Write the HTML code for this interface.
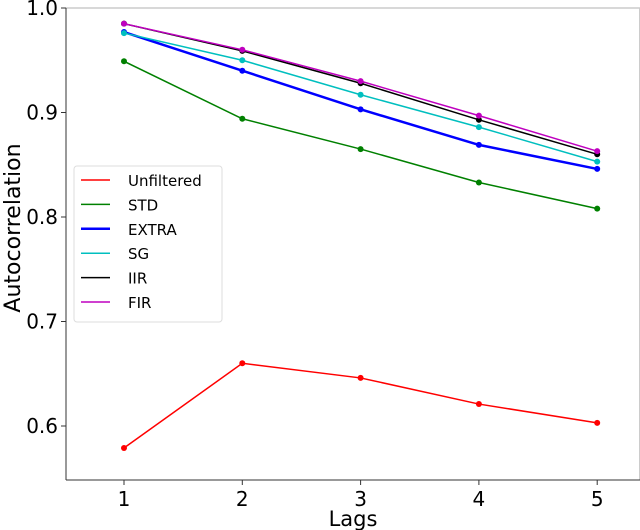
<!DOCTYPE html>
<html><head><meta charset="utf-8"><style>
body{margin:0;background:#fff;}
svg{display:block;font-family:"DejaVu Sans","Liberation Sans",sans-serif;}
</style></head><body>
<svg id="chart" width="640" height="530"></svg>
<script>
const lags=[1,2,3,4,5];
const unfiltered=[0.579,0.660,0.646,0.621,0.603];
const stdVals=[0.949,0.894,0.865,0.833,0.808];
const extraVals=[0.977,0.940,0.903,0.869,0.846];
const sgVals=[0.976,0.950,0.917,0.886,0.853];
const iirVals=[0.985,0.959,0.928,0.893,0.860];
const firVals=[0.985,0.960,0.930,0.897,0.863];
const yTicks=[0.6,0.7,0.8,0.9,1.0];
const xTicks=[1,2,3,4,5];
const seriesNames=["Unfiltered","STD","EXTRA","SG","IIR","FIR"];

const NS="http://www.w3.org/2000/svg";
const svg=document.getElementById('chart');
const L=66,R=640,T=8,B=480;
const x=v=>124+(v-1)*118.3;
const y=v=>8+(1.0-v)*1045;
function mk(tag,attrs,parent){const e=document.createElementNS(NS,tag);for(const k in attrs)e.setAttribute(k,attrs[k]);(parent||svg).appendChild(e);return e;}

const frame=mk('g',{});


mk('line',{x1:L,y1:T,x2:R,y2:T,stroke:'#ccc','stroke-width':1.5},frame);
mk('line',{x1:R-0.5,y1:T,x2:R-0.5,y2:B,stroke:'#ccc','stroke-width':1},frame);
mk('line',{x1:L,y1:T,x2:L,y2:B,stroke:'#333','stroke-width':1},frame);
mk('line',{x1:L,y1:B,x2:R,y2:B,stroke:'#333','stroke-width':1},frame);

yTicks.forEach(t=>{
  const g=mk('g',{});
  
  
  mk('line',{x1:L-5,y1:y(t),x2:L,y2:y(t),stroke:'#333'},g);
  const tx=mk('text',{x:L-8,y:y(t)+7,'text-anchor':'end','font-size':20},g);
  tx.textContent=t.toFixed(1);
});
xTicks.forEach(t=>{
  const g=mk('g',{});
  
  
  mk('line',{x1:x(t),y1:B,x2:x(t),y2:B+5,stroke:'#333'},g);
  const tx=mk('text',{x:x(t),y:B+26,'text-anchor':'middle','font-size':20},g);
  tx.textContent=t;
});
const xl=mk('text',{x:353,y:526,'text-anchor':'middle','font-size':21});


xl.textContent='Lags';
const yl=mk('text',{x:0,y:0,'text-anchor':'middle','font-size':22,transform:'translate(20,228) rotate(-90)'});


yl.textContent='Autocorrelation';

const data=[unfiltered,stdVals,extraVals,sgVals,iirVals,firVals];
const colors=['#ff0000','#008000','#0000ff','#00bfbf','#000000','#bf00bf'];
const widths=[1.5,1.5,2.5,1.5,1.5,1.5];
data.forEach((vals,i)=>{
  const g=mk('g',{});
  
  
  mk('polyline',{points:vals.map((v,j)=>x(lags[j])+','+y(v)).join(' '),fill:'none',stroke:colors[i],'stroke-width':widths[i]},g);
  vals.forEach((v,j)=>{
    const c=mk('circle',{cx:x(lags[j]),cy:y(v),r:3,fill:colors[i]},g);
    
    
  });
});

const lg=mk('g',{});


mk('rect',{x:74,y:166,width:148,height:156,rx:3,fill:'#fff',stroke:'#ddd'},lg);
seriesNames.forEach((n,i)=>{
  const e=mk('g',{},lg);
  
  
  const yy=180+i*24.4;
  mk('line',{x1:81,y1:yy,x2:110,y2:yy,stroke:colors[i],'stroke-width':widths[i]},e);
  const t=mk('text',{x:128,y:yy+6,'font-size':15},e);
  t.textContent=n;
});
</script>
</body></html>
